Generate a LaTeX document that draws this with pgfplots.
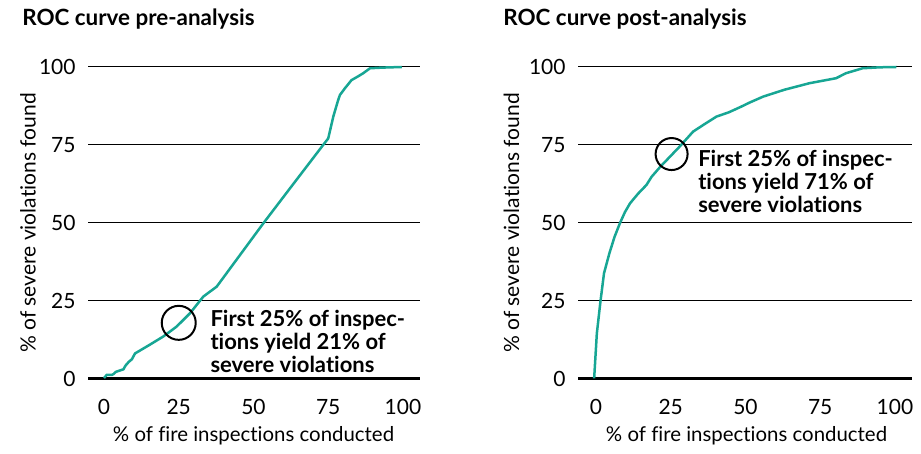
\documentclass[border=0pt]{standalone}
\usepackage{pgfplots}
\pgfplotsset{compat=1.18}
\usepackage{fontspec}
\setmainfont{Lato}[Ligatures=CommonOff]
\definecolor{teal1}{RGB}{23,166,148}
\begin{document}
\begin{tikzpicture}[x=1pt,y=1pt]
\path[use as bounding box] (0,0) rectangle (460.5,227);
\pgfplotsset{
  roc/.style={
    scale only axis,
    height=156pt,
    ymin=0, ymax=100,
    ytick={0,25,50,75,100},
    xtick={0,25,50,75,100},
    axis line style={draw=none},
    major tick length=0pt,
    ymajorgrids,
    grid style={black, line width=0.5pt},
    tick label style={font=\fontsize{10.5}{12}\selectfont},
    yticklabel style={anchor=east, inner sep=0pt, xshift=-6pt},
    xticklabel style={anchor=north, inner sep=0pt, yshift=-10pt},
    /pgf/number format/assume math mode=true,
    clip=false,
  },
}
\tikzset{annot/.style={font=\bfseries\fontsize{11}{11.5}\selectfont, align=left, anchor=base west, inner sep=0pt}}
% left
\begin{axis}[roc, name=L, width=166pt, xmin=-5.35, xmax=105.7, at={(44pt,37.5pt)}, anchor=south west]
\draw[black, line width=1.5pt] (rel axis cs:0,0) -- (rel axis cs:1,0);
\addplot[teal1, line width=1.25pt] coordinates {
(0,0.3)(0.9,1.3)(2.6,1.3)(3.2,1.6)(4,2.3)(6.5,3.1)(7.2,4.3)(8.3,5.5)(9.3,6.3)(10.4,8.2)(15,10.8)(19.8,13.6)(24.3,16.8)(28.8,21.1)(33.2,26.4)(37.7,29.6)(45,39.1)(53.3,49.9)(63,62.1)(73.3,75)(75,77.1)(76.7,84.1)(78.2,89)(78.9,91)(80.6,93.2)(82.8,95.8)(85,97)(86.7,98)(89,99.6)(93,99.8)(99.6,100)
};
\addplot[only marks, mark=o, mark size=8.5pt, mark options={black, line width=1pt}] coordinates {(25,18)};
\node[annot] at (axis cs:35.5,2.2) {First 25\% of inspec-\\tions yield 21\% of\\severe violations};
\end{axis}
% right
\begin{axis}[roc, name=R, width=167pt, xmin=-6.0, xmax=105.7, at={(289pt,37.5pt)}, anchor=south west]
\draw[black, line width=1.5pt] (rel axis cs:0,0) -- (rel axis cs:1,0);
\addplot[teal1, line width=1.25pt] coordinates {
(-0.6,0.2)(0.3,14.6)(1.5,24.8)(2.7,33.9)(4.5,40.3)(6.2,45.5)(8,49.9)(9.7,53.5)(11.4,56.3)(14,59.3)(16.9,62.2)(18.6,64.8)(21.5,68)(24.7,71.2)(28,74.5)(32.5,79.3)(36.5,81.8)(40.3,84.1)(44.5,85.5)(48.6,87.3)(51.4,88.6)(55.9,90.5)(63,92.7)(71.4,94.8)(80.3,96.4)(83.6,98)(89.2,99.6)(95,99.9)(100.5,100)
};
\addplot[only marks, mark=o, mark size=8pt, mark options={black, line width=1pt}] coordinates {(25.3,72.1)};
\node[annot] at (axis cs:34.1,53.5) {First 25\% of inspec-\\tions yield 71\% of\\severe violations};
\end{axis}
% titles and axis labels
\node[anchor=base west, inner sep=0pt, font=\bfseries\fontsize{11.2}{12}\selectfont] at (11,214) {ROC curve pre-analysis};
\node[anchor=base west, inner sep=0pt, font=\bfseries\fontsize{11.2}{12}\selectfont] at (251.5,214) {ROC curve post-analysis};
\node[anchor=base, inner sep=0pt, font=\fontsize{10.2}{12}\selectfont] at (126.75,6) {\% of fire inspections conducted};
\node[anchor=base, inner sep=0pt, font=\fontsize{10.2}{12}\selectfont] at (373.25,6) {\% of fire inspections conducted};
\node[rotate=90, anchor=center, inner sep=0pt, font=\fontsize{10.5}{12}\selectfont] at (14,115.5) {\% of severe violations found};
\node[rotate=90, anchor=center, inner sep=0pt, font=\fontsize{10.5}{12}\selectfont] at (255.8,115.5) {\% of severe violations found};
\end{tikzpicture}
\end{document}
